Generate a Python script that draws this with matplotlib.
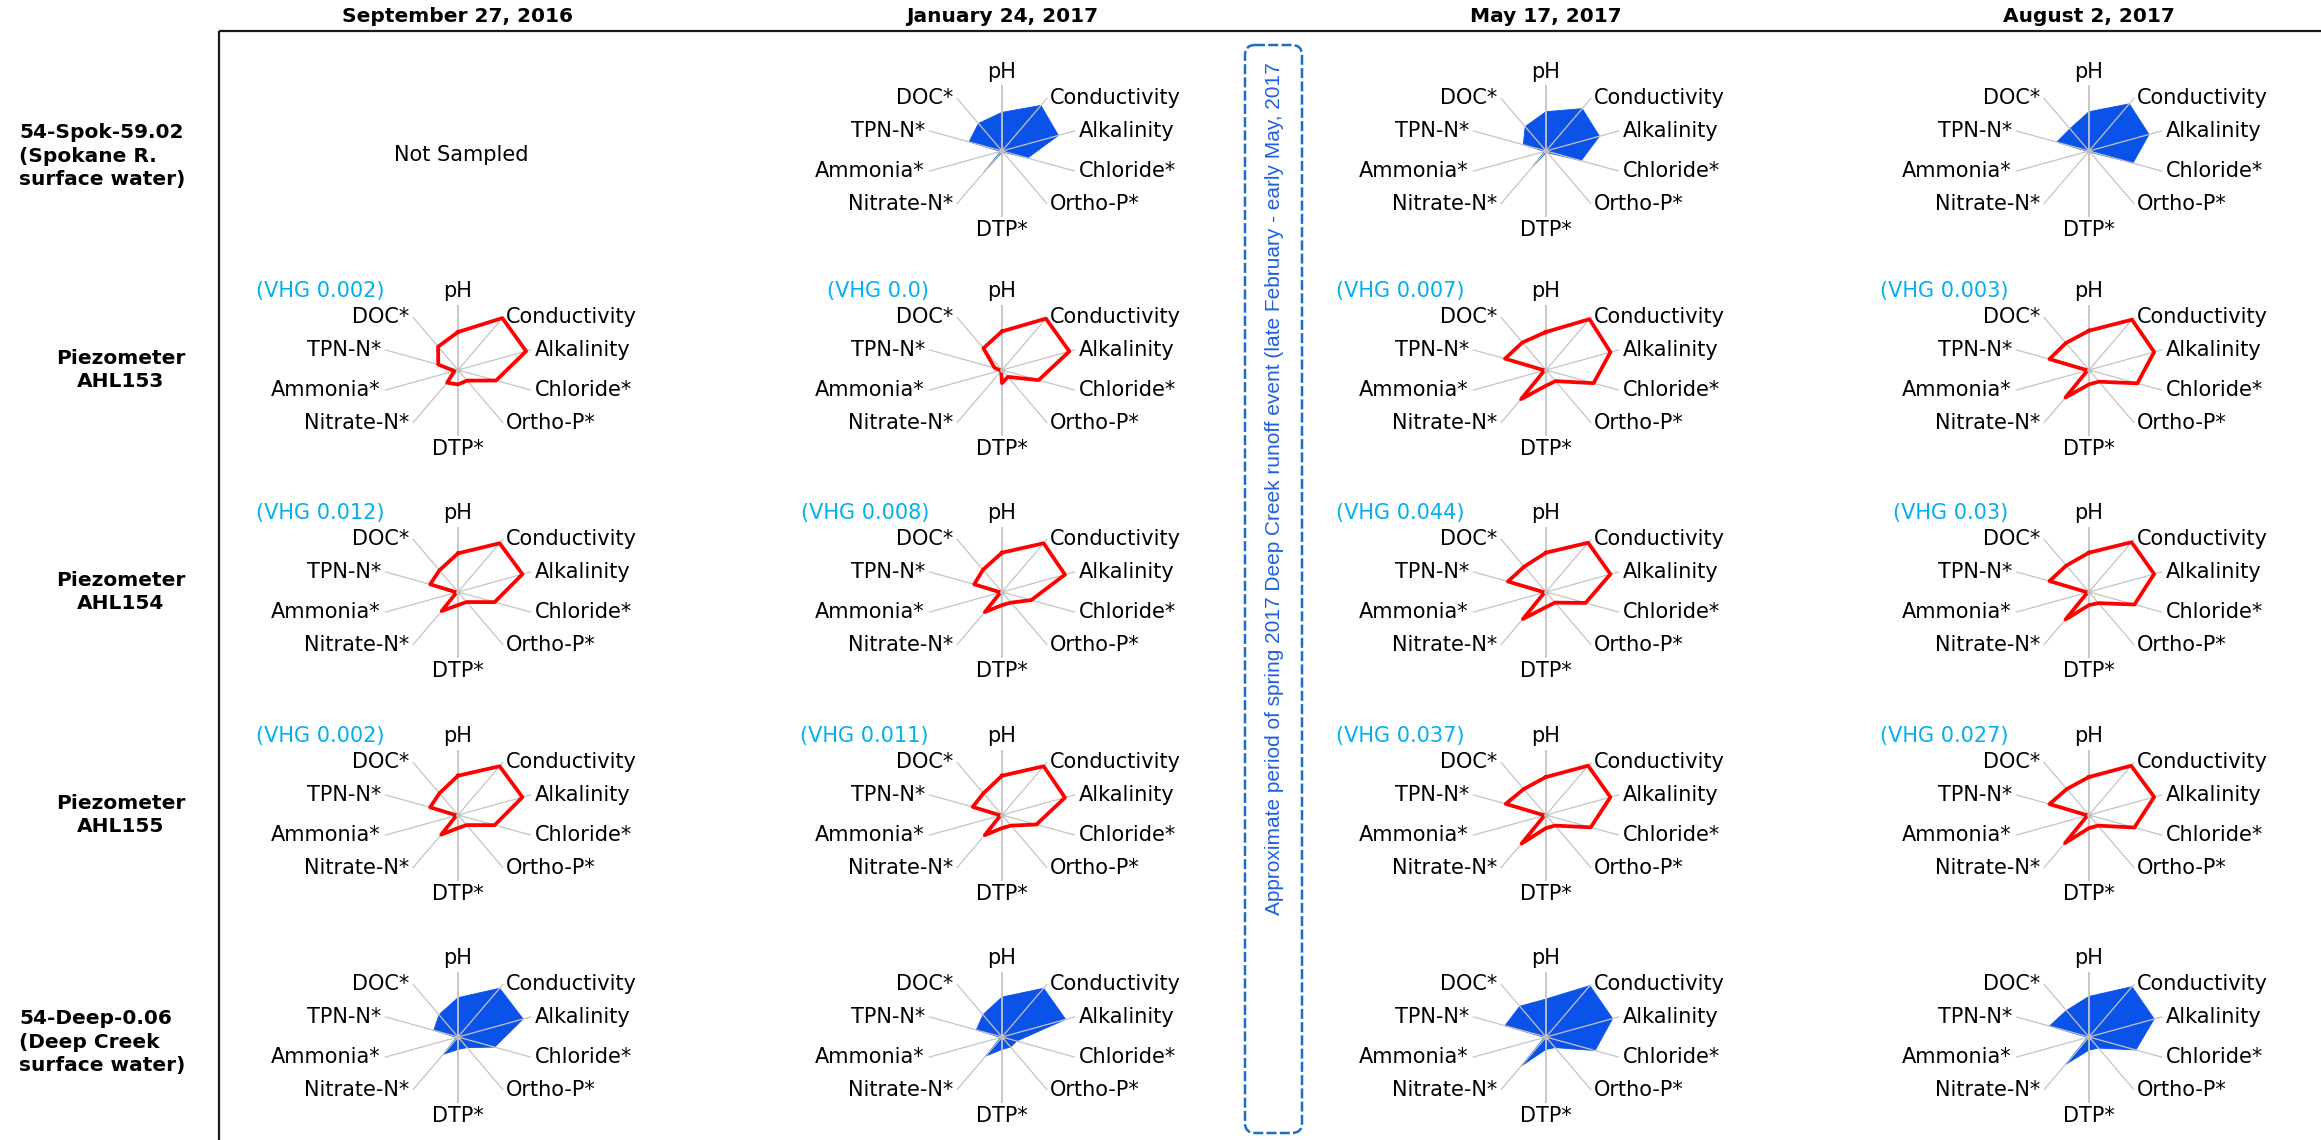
import numpy as np
import matplotlib
matplotlib.use("Agg")
import matplotlib.pyplot as plt
from matplotlib.patches import FancyBboxPatch

plt.rcParams["font.family"] = ["DejaVu Sans"]

# ---------------------------------------------------------------- data
params = ["pH", "Conductivity", "Alkalinity", "Chloride*", "Ortho-P*", "DTP*",
          "Nitrate-N*", "Ammonia*", "TPN-N*", "DOC*"]

dates = ["September 27, 2016", "January 24, 2017", "May 17, 2017", "August 2, 2017"]

site_labels = ["54-Spok-59.02\n(Spokane R.\nsurface water)",
               "Piezometer\nAHL153",
               "Piezometer\nAHL154",
               "Piezometer\nAHL155",
               "54-Deep-0.06\n(Deep Creek\nsurface water)"]

# normalised values, one list per sampling date (order follows `params`)
spokane = [None,
           [0.59, 0.86, 0.77, 0.35, 0.02, 0.02, 0.41, 0.02, 0.45, 0.52],
           [0.60, 0.80, 0.73, 0.48, 0.03, 0.03, 0.30, 0.02, 0.31, 0.46],
           [0.60, 0.89, 0.82, 0.60, 0.02, 0.02, 0.02, 0.02, 0.44, 0.42]]

ahl153 = [[0.58, 0.98, 0.93, 0.52, 0.20, 0.22, 0.24, 0.05, 0.27, 0.44],
          [0.59, 0.97, 0.92, 0.50, 0.13, 0.20, 0.02, 0.02, 0.10, 0.41],
          [0.58, 0.96, 0.88, 0.65, 0.21, 0.24, 0.55, 0.02, 0.56, 0.52],
          [0.60, 0.95, 0.89, 0.66, 0.22, 0.22, 0.52, 0.02, 0.54, 0.51]]

ahl154 = [[0.59, 0.92, 0.88, 0.50, 0.19, 0.20, 0.36, 0.02, 0.38, 0.41],
          [0.60, 0.92, 0.86, 0.40, 0.20, 0.20, 0.38, 0.02, 0.38, 0.42],
          [0.60, 0.93, 0.88, 0.54, 0.20, 0.23, 0.51, 0.02, 0.52, 0.48],
          [0.60, 0.94, 0.89, 0.62, 0.21, 0.20, 0.52, 0.02, 0.54, 0.50]]

ahl155 = [[0.60, 0.92, 0.88, 0.50, 0.19, 0.20, 0.37, 0.02, 0.38, 0.41],
          [0.60, 0.92, 0.86, 0.47, 0.20, 0.20, 0.38, 0.02, 0.40, 0.41],
          [0.58, 0.93, 0.88, 0.61, 0.20, 0.20, 0.54, 0.02, 0.55, 0.49],
          [0.58, 0.93, 0.89, 0.62, 0.20, 0.20, 0.53, 0.02, 0.54, 0.49]]

deep_creek = [[0.60, 0.92, 0.89, 0.50, 0.20, 0.19, 0.33, 0.02, 0.33, 0.42],
              [0.61, 0.92, 0.87, 0.20, 0.19, 0.19, 0.36, 0.02, 0.35, 0.42],
              [0.58, 0.97, 0.91, 0.67, 0.20, 0.19, 0.55, 0.02, 0.56, 0.58],
              [0.62, 0.95, 0.89, 0.64, 0.21, 0.20, 0.52, 0.02, 0.54, 0.50]]

# vertical hydraulic gradient per piezometer and date
vhg_ahl153 = ["0.002", "0.0", "0.007", "0.003"]
vhg_ahl154 = ["0.012", "0.008", "0.044", "0.03"]
vhg_ahl155 = ["0.002", "0.011", "0.037", "0.027"]

runoff_note = ("Approximate period of spring 2017 Deep Creek runoff event "
               "(late February - early May, 2017")

# ---------------------------------------------------------------- layout
W, H, DPI = 2321, 1140, 100
fig = plt.figure(figsize=(W / DPI, H / DPI), dpi=DPI)
fig.patch.set_facecolor("white")

# full-figure overlay in pixel units for frame, headings and the runoff box
over = fig.add_axes([0, 0, 1, 1])
over.set_xlim(0, W)
over.set_ylim(H, 0)
over.axis("off")

col_x = [458, 1002, 1546, 2089]
row_y = [151, 370, 592, 815, 1037]
RX, RY, K = 77.0, 65.5, 1.8

BLUE = "#0A52E8"
RED = "#FF0000"
SPOKE = "#C4C4C4"
VHG_COLOR = "#00B0F0"
FS = 15

angles = np.deg2rad(90 - 36 * np.arange(len(params)))
ux, uy = np.cos(angles), np.sin(angles)

# (ha, va, dx px, dy px) for each spoke label
label_style = [("center", "center", 0, 13.5),
               ("left", "center", 3, 0),
               ("left", "center", 4, 0),
               ("left", "center", 4, 0),
               ("left", "center", 3, 0),
               ("center", "center", 0, -13.5),
               ("right", "center", -3, 0),
               ("right", "center", -4, 0),
               ("right", "center", -4, 0),
               ("right", "center", -3, 0)]


def radar(cx, cy, values, style):
    ax = fig.add_axes([(cx - K * RX) / W, 1 - (cy + K * RY) / H,
                       2 * K * RX / W, 2 * K * RY / H])
    ax.set_xlim(-K, K)
    ax.set_ylim(-K, K)
    ax.axis("off")
    for i in range(len(params)):
        lw = 1.3 if i in (0, 5) else 0.9
        ax.plot([0, ux[i]], [0, uy[i]], color=SPOKE, lw=lw, zorder=2,
                solid_capstyle="butt")
    v = np.asarray(values, dtype=float)
    px, py = v * ux, v * uy
    if style == "fill":
        ax.fill(px, py, facecolor=BLUE, edgecolor=BLUE, lw=0.6, zorder=1)
    else:
        ax.plot(np.append(px, px[0]), np.append(py, py[0]), color=RED,
                lw=2.7, zorder=3, solid_joinstyle="round")
    ax.plot([0], [0], "o", ms=3.5, color="#BEBEBE", mec="none", zorder=4)
    for i, name in enumerate(params):
        ha, va, dx, dy = label_style[i]
        ax.annotate(name, xy=(ux[i], uy[i]), xytext=(dx, dy),
                    textcoords="offset pixels", ha=ha, va=va, fontsize=FS,
                    annotation_clip=False)
    return ax


sites = [spokane, ahl153, ahl154, ahl155, deep_creek]
styles = ["fill", "line", "line", "line", "fill"]
vhgs = [None, vhg_ahl153, vhg_ahl154, vhg_ahl155, None]
vhg_dx = [-73, -73, -81, -81]

for r, (site, style, vhg) in enumerate(zip(sites, styles, vhgs)):
    for c, values in enumerate(site):
        cx, cy = col_x[c], row_y[r]
        if values is None:
            over.text(cx + 3, cy + 4, "Not Sampled", ha="center", va="center",
                      fontsize=FS)
            continue
        radar(cx, cy, values, style)
        if vhg is not None:
            over.text(cx + vhg_dx[c], cy - 79, f"(VHG {vhg[c]})", ha="right",
                      va="center", fontsize=FS, color=VHG_COLOR)

# column headings
for c, d in enumerate(dates):
    over.text(col_x[c], 16, d, ha="center", va="center", fontsize=14.5,
              fontweight="bold")

# row headings
for r, lab in enumerate(site_labels):
    if r in (0, 4):
        over.text(19, row_y[r] + 5, lab, ha="left", va="center", fontsize=14.5,
                  fontweight="bold", linespacing=1.3)
    else:
        over.text(121, row_y[r], lab, ha="center", va="center", fontsize=14.5,
                  fontweight="bold", linespacing=1.3, multialignment="center")

# frame lines
over.plot([219, W], [31, 31], color="#1A1A1A", lw=1.6, solid_capstyle="butt")
over.plot([219, 219], [31, H], color="#1A1A1A", lw=1.6, solid_capstyle="butt")

# runoff period box
box = FancyBboxPatch((1245, 45), 57, 1088,
                     boxstyle="round,pad=0,rounding_size=10",
                     fill=False, edgecolor="#1E6EC8", lw=1.8,
                     linestyle=(0, (4, 1.3)))
over.add_patch(box)
over.text(1274, 62, runoff_note, rotation=90, ha="center", va="top",
          fontsize=15, color="#1F5FE0", family=["Liberation Sans"])

fig.savefig("out.png", dpi=DPI, facecolor="white")
